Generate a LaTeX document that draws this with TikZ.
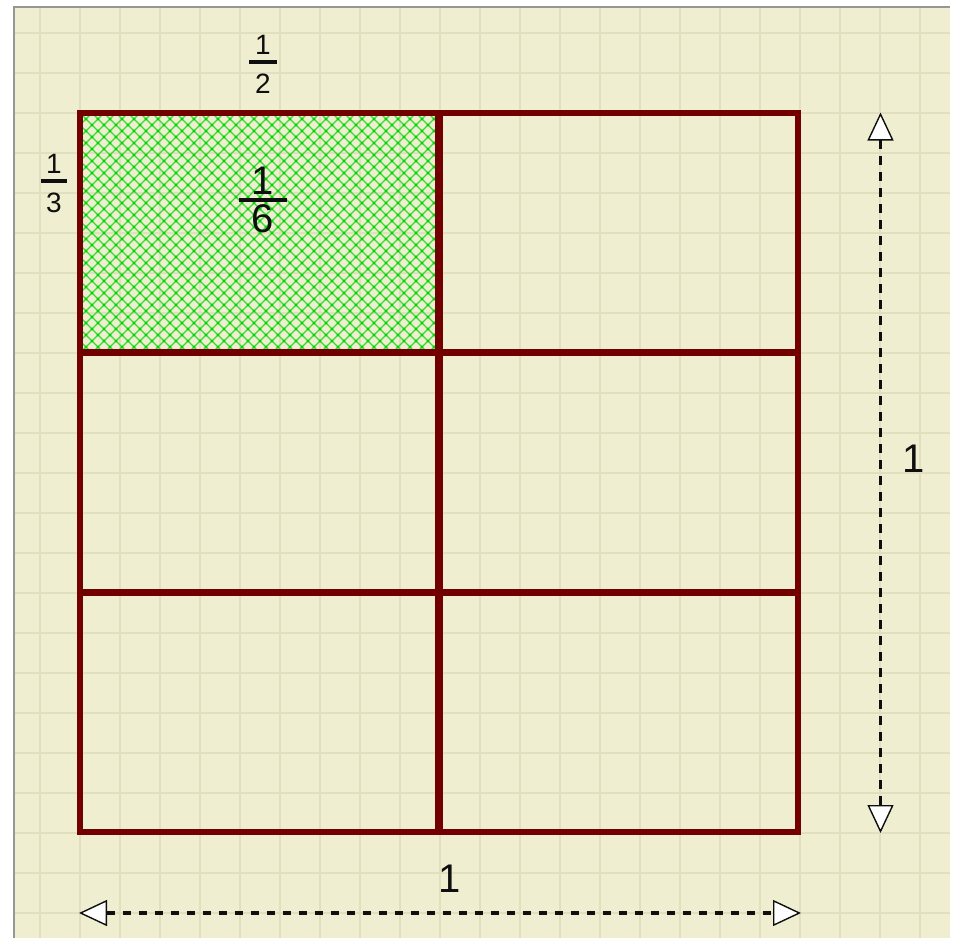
\documentclass[tikz,border=0pt]{standalone}
\usepackage{fontspec}
\setmainfont{Liberation Sans}
\usetikzlibrary{arrows.meta}

\definecolor{paper}{RGB}{240,238,208}
\definecolor{gridcol}{RGB}{226,223,191}
\definecolor{frame}{RGB}{150,150,150}
\definecolor{maroon}{RGB}{115,0,0}
\definecolor{hatchgreen}{RGB}{50,222,50}
\definecolor{dotgreen}{RGB}{0,215,0}
\definecolor{inkgray}{RGB}{15,15,15}

% stacked fraction: num, den, bar width, gap above bar, gap below bar
\newcommand{\vfrac}[5]{\vbox{\offinterlineskip\halign{\hfil##\hfil\cr
  #1\cr\noalign{\kern#4}
  \rule{#3}{4pt}\cr\noalign{\kern#5}
  #2\cr}}}

\begin{document}
\begin{tikzpicture}[x=1pt, y=-1pt,
  >={Triangle[fill=white, length=28pt, width=26pt, line width=1.4pt]},
  gridline/.style={gridcol, line width=2pt},
  cellline/.style={maroon, line width=6pt},
  innerline/.style={maroon, line width=7.5pt},
  hatch/.style={hatchgreen, line width=1.2pt},
  dimline/.style={inkgray, <->},
  lbl/.style={inner sep=0pt, text=inkgray},
  bigtext/.style={lbl, font=\fontsize{40}{44}\selectfont},
  smalltext/.style={lbl, font=\fontsize{28}{30}\selectfont}]

  \useasboundingbox (0,0) rectangle (956,938);
  \fill[white] (0,0) rectangle (956,938);

  % Paper and grid
  \fill[paper] (15,8) rectangle (950,938);
  \foreach \gx in {40,80,...,920}
    \draw[gridline] (\gx,8) -- (\gx,938);
  \foreach \gy in {33,73,...,913}
    \draw[gridline] (15,\gy) -- (950,\gy);
  \draw[frame, line width=2pt] (14,938) -- (14,7) -- (950,7);

  % Corners of the square
  \coordinate (TL) at (80,113);
  \coordinate (BR) at (798,832);
  \coordinate (TM) at (439,113);
  \coordinate (BM) at (439,832);
  \coordinate (L1) at (80,352.7);
  \coordinate (R1) at (798,352.7);
  \coordinate (L2) at (80,592.3);
  \coordinate (R2) at (798,592.3);
  \coordinate (C1) at (439,352.7);

  % Hatched sixth
  \begin{scope}
    \clip (TL) rectangle (C1);
    \foreach \k in {-20,...,30}
      \draw[hatch] ({80+12*\k},113) -- ++(240,240);
    \foreach \k in {0,...,50}
      \draw[hatch] ({80+12*\k},113) -- ++(-240,240);
    \foreach \n in {0,2,...,40}
      \foreach \m in {0,2,...,60}
        \fill[dotgreen] ({80+6*\m},{113+6*\n}) circle (1.6pt);
    \foreach \n in {1,3,...,39}
      \foreach \m in {1,3,...,59}
        \fill[dotgreen] ({80+6*\m},{113+6*\n}) circle (1.6pt);
  \end{scope}

  % Cells
  \draw[innerline] (TM) -- (BM);
  \draw[innerline] (L1) -- (R1);
  \draw[innerline] (L2) -- (R2);
  \draw[cellline] (TL) rectangle (BR);

  % Dimension arrows
  \coordinate (VT) at (880.5,112.5);
  \coordinate (VB) at (880.5,833);
  \coordinate (HL) at (79,913);
  \coordinate (HR) at (801,913);
  \draw[dimline, line width=2.5pt, dash pattern=on 9pt off 7pt] (VT) -- (VB);
  \draw[dimline, line width=4pt, dash pattern=on 8.5pt off 7.5pt] (HL) -- (HR);

  % Labels
  \node[smalltext] (half) at (263,64.5) {\vfrac{1}{2}{28pt}{5pt}{10pt}};
  \node[smalltext] (third) at (54,183.5) {\vfrac{1}{3}{26pt}{5pt}{10pt}};
  \node[bigtext] (sixth) at (263,199.5) {\vfrac{1}{6}{48pt}{4pt}{2pt}};
  \node[bigtext] (height) at (914,458.5) {1};
  \node[bigtext] (width) at (450,878.5) {1};
\end{tikzpicture}
\end{document}
